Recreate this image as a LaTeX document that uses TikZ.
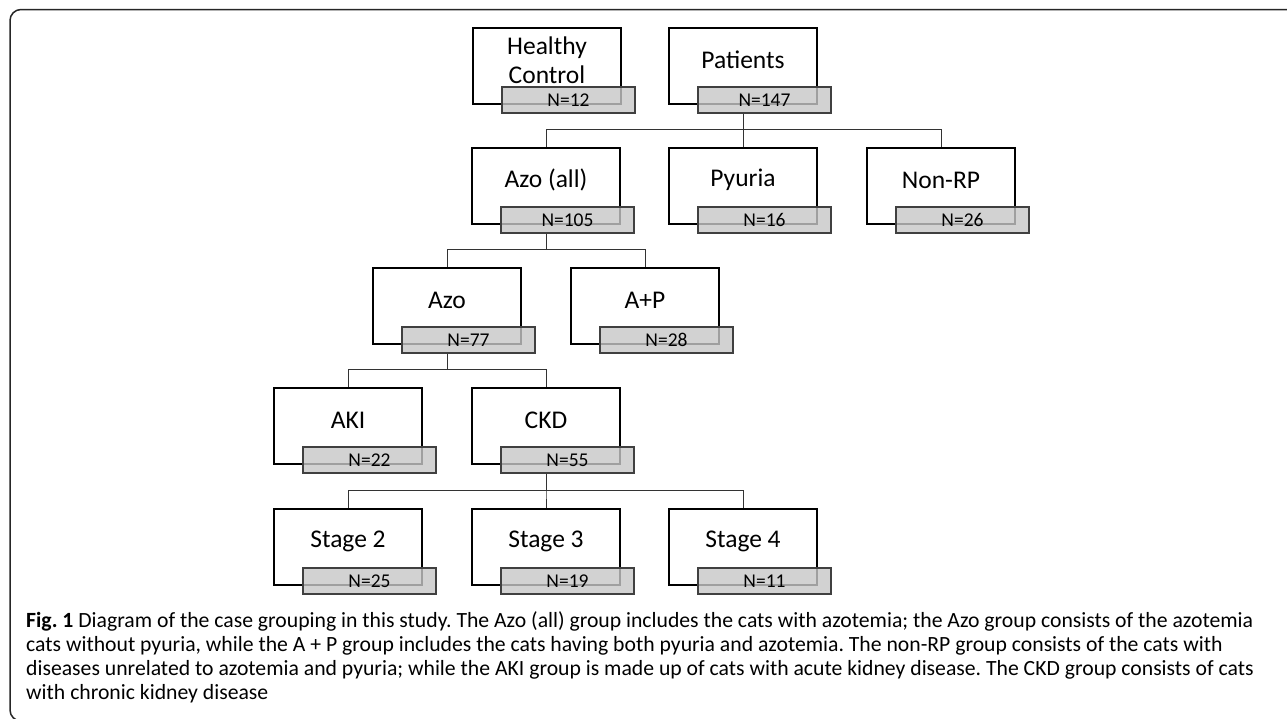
\documentclass[tikz,border=0pt]{standalone}
\usepackage{fontspec}
\setmainfont{Carlito}
\frenchspacing
\newcommand\grp[5]{%
  \node[wbox] (#1) at (#2,#3+38) {};
  \node[lbl] (#1L) at (#2,#3+32) {#4};
  \node[nbox] (#1N) at (#2+21.5,#3+72) {#5};
}
\begin{document}
\begin{tikzpicture}[x=1pt,y=-1pt,
  wbox/.style={draw=black, line width=1.6pt, fill=white, minimum width=148pt, minimum height=76pt, inner sep=0pt},
  nbox/.style={draw=black!75, line width=1.1pt, fill=black!22, fill opacity=0.8, text opacity=1, minimum width=133pt, minimum height=26pt, inner sep=0pt, font=\fontsize{19.5}{20}\selectfont},
  lbl/.style={font=\fontsize{25.5}{29}\selectfont, align=center, inner sep=0pt},
  conn/.style={draw=black!80, line width=1pt},
  captxt/.style={anchor=base west, inner sep=0pt, font=\fontsize{21.7}{24}\selectfont},
  frm/.style={draw=black!85, line width=1.5pt, rounded corners=11pt}]
\useasboundingbox (0,0) rectangle (1287,718);
\draw[frm] (1300,9.5) -- (10,9.5) -- (10,721) -- (1300,721);
% row 1
\grp{hc}{547}{28}{Healthy\\Control}{N=12}
\grp{pat}{743}{28}{Patients}{N=147}
% row 2
\grp{azoall}{546}{148}{Azo (all)}{N=105}
\grp{pyu}{743}{148}{Pyuria}{N=16}
\grp{nonrp}{941}{148}{Non-RP}{N=26}
% row 3
\grp{azo}{447}{268}{Azo}{N=77}
\grp{ap}{645}{268}{A+P}{N=28}
% row 4
\grp{aki}{348}{388}{AKI}{N=22}
\grp{ckd}{546}{388}{CKD}{N=55}
% row 5
\grp{st2}{348}{509}{Stage 2}{N=25}
\grp{st3}{546}{509}{Stage 3}{N=19}
\grp{st4}{743}{509}{Stage 4}{N=11}
% connectors
\foreach \p/\c in {pat/azoall, pat/pyu, pat/nonrp, azoall/azo, azoall/ap, azo/aki, azo/ckd, ckd/st2, ckd/st3, ckd/st4}
  \draw[conn] (\p.center |- \p N.south) |- ([yshift=18pt]\c.north) -- (\c.north);
% caption
\node[captxt] (c1) at (26,627) {\textbf{Fig. 1} Diagram of the case grouping in this study. The Azo (all) group includes the cats with azotemia; the Azo group consists of the azotemia};
\node[captxt] (c2) at (26,651) {cats without pyuria, while the A + P group includes the cats having both pyuria and azotemia. The non-RP group consists of the cats with};
\node[captxt] (c3) at (26,675) {diseases unrelated to azotemia and pyuria; while the AKI group is made up of cats with acute kidney disease. The CKD group consists of cats};
\node[captxt] (c4) at (26,699) {with chronic kidney disease};
\end{tikzpicture}
\end{document}
